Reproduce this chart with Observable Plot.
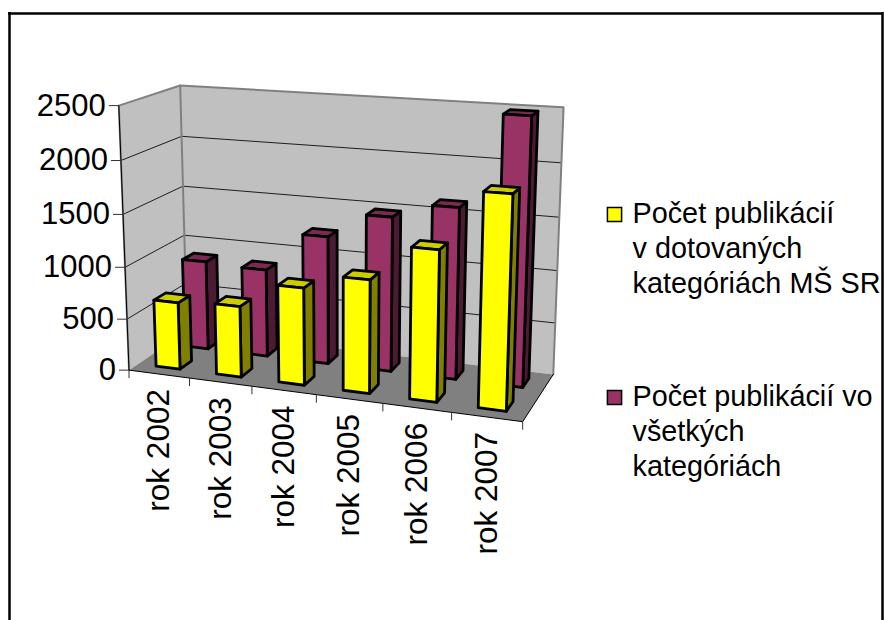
<!DOCTYPE html>
<html><head><meta charset="utf-8">
<script src="https://cdn.jsdelivr.net/npm/d3@7"></script>
<script src="https://cdn.jsdelivr.net/npm/@observablehq/plot@0.6"></script>
<style>html,body{margin:0;padding:0;background:#fff}svg{display:block}</style>
</head><body><div id="c"></div>
<script>
const years = ["rok 2002","rok 2003","rok 2004","rok 2005","rok 2006","rok 2007"];
const funded = [650,680,920,1060,1390,1930];
const total = [880,860,1240,1480,1620,2485];
const yTicks = [0,500,1000,1500,2000,2500];
const legend1 = ["Počet publikácií","v dotovaných","kategóriách MŠ SR"];
const legend2 = ["Počet publikácií vo","všetkých","kategóriách"];
const yMax = 2500;

// camera calibration: box corner (u,v,w in 0..1) -> screen position
const calib = [
  [0,0,0,129,369],[0,1,0,118,105],[0,0,1,186,331],[0,1,1,180,85],
  [1,0,0,522,422],[1,0,1,553,373],[1,1,1,563,107]
];
function solve(A,b){
  const n=b.length, M=A.map((r,i)=>[...r,b[i]]);
  for(let i=0;i<n;i++){
    let p=i; for(let k=i+1;k<n;k++) if(Math.abs(M[k][i])>Math.abs(M[p][i])) p=k;
    [M[i],M[p]]=[M[p],M[i]];
    for(let k=i+1;k<n;k++){const f=M[k][i]/M[i][i]; for(let j=i;j<=n;j++) M[k][j]-=f*M[i][j];}
  }
  const x=Array(n).fill(0);
  for(let i=n-1;i>=0;i--){let s=M[i][n]; for(let j=i+1;j<n;j++) s-=M[i][j]*x[j]; x[i]=s/M[i][i];}
  return x;
}
const rows=[],rhs=[];
for(const [u,v,w,X,Y] of calib){
  rows.push([u,v,w,1,0,0,0,0,-X*u,-X*v,-X*w]); rhs.push(X);
  rows.push([0,0,0,0,u,v,w,1,-Y*u,-Y*v,-Y*w]); rhs.push(Y);
}
const AtA=Array.from({length:11},(_, i)=>Array.from({length:11},(_, j)=>d3.sum(rows,r=>r[i]*r[j])));
const Atb=Array.from({length:11},(_, i)=>d3.sum(rows,(r,k)=>r[i]*rhs[k]));
const c=solve(AtA,Atb);
function project(cat,val,w){
  const u=cat/years.length, v=val/yMax;
  const d=c[8]*u+c[9]*v+c[10]*w+1;
  return {px:(c[0]*u+c[1]*v+c[2]*w+c[3])/d, py:(c[4]*u+c[5]*v+c[6]*w+c[7])/d};
}
let nextId=0;
function poly(corners,fill,extra){
  const id=nextId++;
  return corners.map(([a,b,w])=>({...project(a,b,w),id,fill,...extra}));
}
const n=years.length;
const walls=[
  ...poly([[0,0,0],[0,yMax,0],[0,yMax,1],[0,0,1]],"#c0c0c0"),
  ...poly([[0,0,1],[0,yMax,1],[n,yMax,1],[n,0,1]],"#c0c0c0"),
  ...poly([[0,0,0],[0,0,1],[n,0,1],[n,0,0]],"#808080")
];
const gridlines=yTicks.slice(1,-1).flatMap(t=>{const id=nextId++;return [[0,t,0],[0,t,1],[n,t,1]].map(([a,b,w])=>({...project(a,b,w),id}));});
const wallEdge=[[[0,0,0],[0,yMax,0],[0,yMax,1],[n,yMax,1],[n,0,1]],[[0,yMax,1],[0,0,1]]].flatMap(l=>{const id=nextId++;return l.map(([a,b,w])=>({...project(a,b,w),id}));});
const axisLines=[[[0,yMax,0],[0,0,0],[n,0,0],[n,0,1]]].flatMap(l=>{const id=nextId++;return l.map(([a,b,w])=>({...project(a,b,w),id}));});

function bar(i,val,w0,w1,cols){
  const a=i+0.3,b=i+0.7;
  return [
    ...poly([[b,0,w0],[b,0,w1],[b,val,w1],[b,val,w0]],cols[1]),
    ...poly([[a,val,w0],[b,val,w0],[b,val,w1],[a,val,w1]],cols[2]),
    ...poly([[a,0,w0],[b,0,w0],[b,val,w0],[a,val,w0]],cols[0])
  ];
}
const yellow=["#ffff00","#808000","#cccc00"], maroon=["#993366","#4d1a33","#7a2952"];
const bars=[...total.flatMap((v,i)=>bar(i,v,0.65,0.85,maroon)),...funded.flatMap((v,i)=>bar(i,v,0.15,0.35,yellow))];

const font="Liberation Sans, Arial, sans-serif";
const yTickData=yTicks.map(t=>{const p=project(0,t,0);return {t,...p,x2:p.px-10};});
const xTickData=d3.range(0,n+1).map(i=>{const p=project(i,0,0);return {...p,y2:p.py+8};});
const catData=years.map((label,i)=>({label,...project(i+0.5,0,0)}));
const leg=[{items:legend1,y:213,fill:"#ffff00"},{items:legend2,y:396,fill:"#993366"}];
const legText=leg.flatMap(g=>g.items.map((t,k)=>({t,y:g.y+k*35.3})));
const swatch=leg.map(g=>({y:g.y+1,fill:g.fill}));

const chart=Plot.plot({
  width:885,height:620,margin:0,
  x:{domain:[0,885],range:[0,885],axis:null},
  y:{domain:[0,620],range:[0,620],axis:null},
  style:{background:"#fff",fontFamily:font},
  marks:[
    Plot.line(walls,{x:"px",y:"py",z:"id",fill:"fill",curve:"linear-closed"}),
    Plot.line(gridlines,{x:"px",y:"py",z:"id",stroke:"#000",strokeWidth:1,strokeOpacity:.85}),
    Plot.line(wallEdge,{x:"px",y:"py",z:"id",stroke:"#808080",strokeWidth:2}),
    Plot.line(axisLines,{x:"px",y:"py",z:"id",stroke:"#000",strokeWidth:1}),
    Plot.link(yTickData,{x1:"px",x2:"x2",y1:"py",y2:"py",stroke:"#333",strokeWidth:1}),
    Plot.link(xTickData,{x1:"px",x2:"px",y1:"py",y2:"y2",stroke:"#333",strokeWidth:1}),
    Plot.line(bars,{x:"px",y:"py",z:"id",fill:"fill",stroke:"#000",strokeWidth:2.8,curve:"linear-closed",strokeLinejoin:"round"}),
    Plot.text(yTickData,{x:"x2",y:"py",dx:-3,text:d=>String(d.t),textAnchor:"end",fontSize:31,fill:"#000",lineAnchor:"middle"}),
    Plot.text(catData,{x:"px",y:d=>d.py+15,text:"label",rotate:-90,textAnchor:"end",fontSize:31.5,fill:"#000",lineAnchor:"middle"}),
    Plot.dot(swatch,{x:()=>614,y:"y",symbol:"square",r:8,fill:"fill",stroke:"#000",strokeWidth:1.5}),
    Plot.text(legText,{x:()=>632,y:"y",text:"t",textAnchor:"start",fontSize:28.8,fill:"#000",lineAnchor:"middle"}),
    Plot.ruleX([9],{y1:12,y2:620,stroke:"#000",strokeWidth:2.5}),
    Plot.ruleX([882],{y1:12,y2:620,stroke:"#000",strokeWidth:2.5}),
    Plot.ruleY([13],{x1:8,x2:883,stroke:"#000",strokeWidth:2.5})
  ]
});
document.getElementById("c").append(chart);
</script></body></html>
